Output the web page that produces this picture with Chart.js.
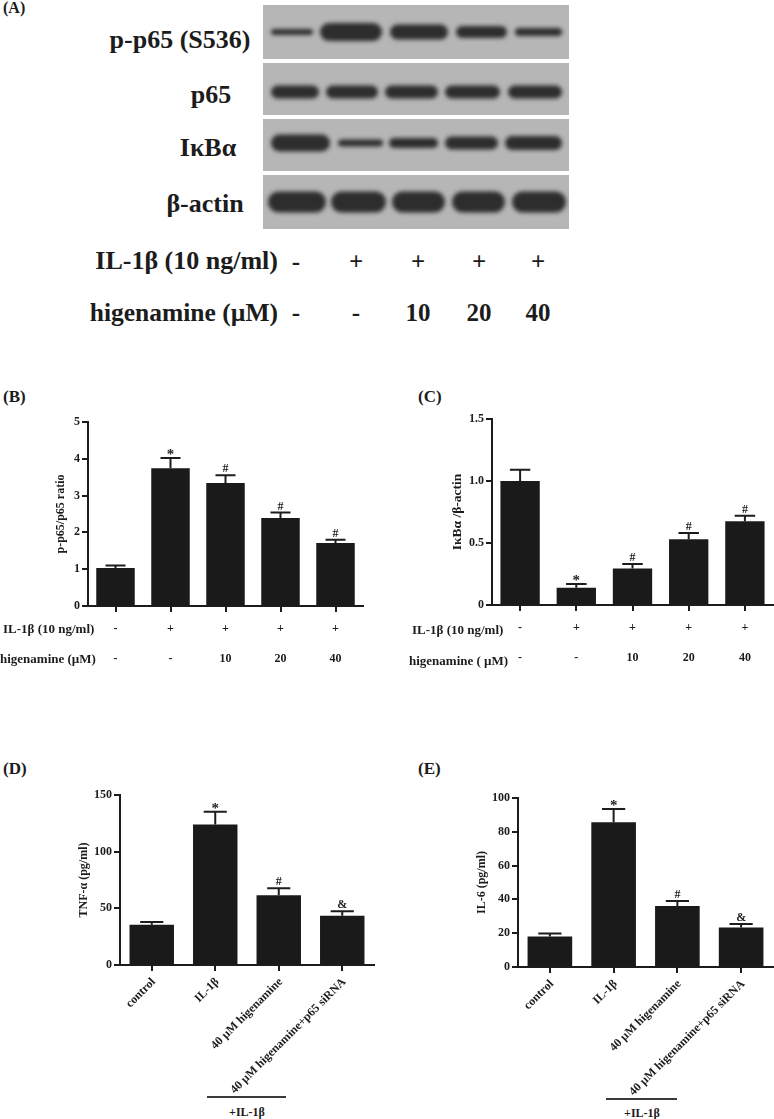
<!DOCTYPE html>
<html>
<head>
<meta charset="utf-8">
<script src="https://cdn.jsdelivr.net/npm/chart.js@4/dist/chart.umd.min.js"></script>
<style>
  html, body { margin: 0; background: #fff; }
  #page { position: relative; width: 774px; height: 1119px; overflow: hidden; font-family: "Liberation Serif", serif; font-weight: bold; color: #1c1c1c; }
  canvas { position: absolute; }
  .txt { position: absolute; white-space: nowrap; line-height: 1; }
  .rule { position: absolute; height: 2px; background: #3a3a3a; }
</style>
</head>
<body>
<div id="page"></div>
<script>
// panel A blot, in membrane units
const blotNames = ["p-p65 (S536)", "p65", "I\u03BAB\u03B1", "\u03B2-actin"];
const membraneCentre = [27, 84, 140, 197];
const membraneHeight = [54, 52, 52, 54];
const bandCentre = [27, 87, 138, 197];
const bandStart = [[8, 57, 127, 193, 252], [8, 63, 122, 182, 245], [8, 75, 126, 182, 242], [5, 68, 129, 189, 249]];
const bandEnd = [[50, 119, 185, 244, 299], [56, 115, 175, 237, 299], [67, 120, 175, 235, 299], [63, 123, 182, 242, 303]];
const bandLoad = [[6, 18, 15, 12, 8], [13, 13, 13, 13, 13], [17, 7, 10, 13, 14], [21, 21, 21, 21, 21]];

// tick rows shared by A, B and C
const il1bRow = ["-", "+", "+", "+", "+"];
const higenamineRow = ["-", "-", "10", "20", "40"];

// panel B
const ratioValues = [1.03, 3.74, 3.34, 2.39, 1.71];
const ratioErrors = [0.07, 0.28, 0.21, 0.15, 0.09];
const ratioMarks = ["", "*", "#", "#", "#"];

// panel C
const ikbValues = [1.0, 0.14, 0.295, 0.53, 0.675];
const ikbErrors = [0.09, 0.03, 0.035, 0.05, 0.045];
const ikbMarks = ["", "*", "#", "#", "#"];

// panels D and E
const treatmentLabels = ["control", "IL-1\u03B2", "40 \u00B5M higenamine", "40 \u00B5M higenamine+p65 siRNA"];
const tnfValues = [35.5, 124, 61.6, 43.4];
const tnfErrors = [2.4, 11.3, 6.2, 4.1];
const tnfMarks = ["", "*", "#", "&"];
const il6Values = [18.1, 85.7, 36.1, 23.4];
const il6Errors = [1.7, 7.8, 2.9, 2.1];
const il6Marks = ["", "*", "#", "&"];

const INK = "#1c1c1c";
const SERIF = "Liberation Serif";
const page = document.getElementById("page");

function place(text, x, y, size, align) {
    const el = document.createElement("div");
    el.className = "txt";
    el.textContent = text;
    el.style.left = x + "px";
    el.style.top = y + "px";
    el.style.fontSize = size + "px";
    const shift = align === "right" ? "-100%" : align === "center" ? "-50%" : "0";
    el.style.transform = `translate(${shift}, -50%)`;
    page.appendChild(el);
}

function rule(x, y, w) {
    const el = document.createElement("div");
    el.className = "rule";
    el.style.left = x + "px";
    el.style.top = y + "px";
    el.style.width = w + "px";
    page.appendChild(el);
}

function addCanvas(left, top, width, height) {
    const canvas = document.createElement("canvas");
    canvas.width = width;
    canvas.height = height;
    canvas.style.left = left + "px";
    canvas.style.top = top + "px";
    canvas.style.width = width + "px";
    canvas.style.height = height + "px";
    page.appendChild(canvas);
    return canvas;
}

function createBlot() {
    const datasets = [];
    bandStart.forEach((row, r) => row.forEach((start, lane) => {
        const load = bandLoad[r][lane];
        datasets.push({
            data: [{ x: start + load / 2, y: bandCentre[r] }, { x: bandEnd[r][lane] - load / 2, y: bandCentre[r] }],
            showLine: true, pointRadius: 0, borderWidth: load, borderColor: "#2d2d2d", borderCapStyle: "round", isBand: true
        });
    }));
    membraneCentre.forEach((y, r) => {
        datasets.push({
            data: [{ x: 0, y }, { x: 306, y }],
            showLine: true, pointRadius: 0, borderWidth: membraneHeight[r], borderColor: "#b6b6b6", borderCapStyle: "butt"
        });
    });
    new Chart(addCanvas(263, 5, 306, 224), {
        type: "scatter",
        data: { datasets },
        options: {
            responsive: false, animation: false,
            layout: { padding: 0 },
            plugins: { legend: { display: false }, tooltip: { enabled: false } },
            scales: {
                x: { type: "linear", display: false, min: 0, max: 306 },
                y: { type: "linear", display: false, min: 0, max: 224, reverse: true }
            }
        },
        plugins: [{
            id: "bandBlur",
            beforeDatasetDraw(chart, args) {
                chart.ctx.save();
                if (chart.data.datasets[args.index].isBand) chart.ctx.filter = "blur(2.2px)";
            },
            afterDatasetDraw(chart) { chart.ctx.restore(); }
        }]
    });
}

function createBarPanel(box, cfg) {
    new Chart(addCanvas(box.left, box.top, box.width, box.height), {
        type: "bar",
        data: {
            labels: cfg.labels,
            datasets: [{ data: cfg.values, backgroundColor: "#1a1a1a", barPercentage: 0.7, categoryPercentage: 1 }]
        },
        options: {
            responsive: false, animation: false,
            layout: { padding: { top: 12, right: 1, left: 0, bottom: 0 } },
            plugins: { legend: { display: false }, tooltip: { enabled: false } },
            scales: {
                x: {
                    afterFit: s => { s.height = box.xHeight; },
                    border: { color: INK, width: 2 },
                    grid: { offset: false, drawOnChartArea: false, tickLength: 6, tickWidth: 2, tickColor: INK, lineWidth: 2 },
                    ticks: {
                        color: INK, autoSkip: false, padding: cfg.rotate ? 4 : 2, labelOffset: cfg.rotate ? 2 : 0,
                        minRotation: cfg.rotate || 0, maxRotation: cfg.rotate || 0,
                        font: { family: SERIF, weight: "bold", size: 12, lineHeight: cfg.rotate ? 1.2 : "30px" }
                    }
                },
                y: {
                    min: 0, max: cfg.max,
                    afterFit: s => { s.width = box.yWidth; },
                    border: { color: INK, width: 2 },
                    grid: { drawOnChartArea: false, tickLength: 6, tickWidth: 2, tickColor: INK, lineWidth: 2 },
                    ticks: { color: INK, stepSize: cfg.step, padding: 2, font: { family: SERIF, weight: "bold", size: 12 } },
                    title: { display: true, text: cfg.title, color: INK, padding: { top: 4, bottom: 0 }, font: { family: SERIF, weight: "bold", size: cfg.titleSize || 12 } }
                }
            }
        },
        plugins: [{
            id: "errorBars",
            afterDatasetsDraw(chart) {
                const { ctx } = chart;
                const yScale = chart.scales.y;
                const bars = chart.getDatasetMeta(0).data;
                ctx.save();
                ctx.strokeStyle = INK;
                ctx.lineWidth = 2;
                ctx.fillStyle = INK;
                ctx.textAlign = "center";
                ctx.textBaseline = "alphabetic";
                bars.forEach((bar, i) => {
                    const base = yScale.getPixelForValue(cfg.values[i]);
                    const top = yScale.getPixelForValue(cfg.values[i] + cfg.errors[i]);
                    const half = bar.width * 0.26;
                    ctx.beginPath();
                    ctx.moveTo(bar.x, base);
                    ctx.lineTo(bar.x, top);
                    ctx.moveTo(bar.x - half, top);
                    ctx.lineTo(bar.x + half, top);
                    ctx.stroke();
                    const mark = cfg.marks[i];
                    if (mark) {
                        // the asterisk sits high in its line, so it needs a lower baseline
                        ctx.font = `bold ${mark === "*" ? 15 : 12}px "${SERIF}"`;
                        ctx.fillText(mark, bar.x, mark === "*" ? top + 1 : top - 3);
                    }
                });
                ctx.restore();
            }
        }]
    });
}

const rowLabels = il1bRow.map((v, i) => [v, higenamineRow[i]]);

// panel A
createBlot();
place("(A)", 3, 8, 16);
const blotLabelX = [180, 211, 208, 205];
const blotLabelY = [40, 95, 148, 204];
blotNames.forEach((name, i) => place(name, blotLabelX[i], blotLabelY[i], 26, "center"));
place("IL-1\u03B2 (10 ng/ml)", 278, 261, 26, "right");
place("higenamine (\u00B5M)", 278, 313, 25.5, "right");
const blotLaneX = [296, 356, 418, 479, 538];
il1bRow.forEach((v, i) => place(v, blotLaneX[i], 261, 25, "center"));
higenamineRow.forEach((v, i) => place(v, blotLaneX[i], 312, 25, "center"));

// panel B
place("(B)", 3, 396, 17);
createBarPanel({ left: 50, top: 410, width: 314, height: 266, xHeight: 70, yWidth: 38 },
    { labels: rowLabels, values: ratioValues, errors: ratioErrors, marks: ratioMarks, max: 5, step: 1, title: "p-p65/p65 ratio" });
place("IL-1\u03B2 (10 ng/ml)", 3, 628, 13);
place("higenamine (\u00B5M)", 0, 658, 13);

// panel C
place("(C)", 418, 396, 17);
createBarPanel({ left: 445, top: 407, width: 329, height: 268, xHeight: 70, yWidth: 47 },
    { labels: rowLabels, values: ikbValues, errors: ikbErrors, marks: ikbMarks, max: 1.5, step: 0.5, title: "I\u03BAB\u03B1 /\u03B2-actin", titleSize: 13.5 });
place("IL-1\u03B2 (10 ng/ml)", 412, 629, 13);
place("higenamine ( \u00B5M)", 409, 660, 13);

// panel D
place("(D)", 3, 768, 17);
createBarPanel({ left: 73, top: 783, width: 302, height: 312, xHeight: 130, yWidth: 47 },
    { labels: treatmentLabels, values: tnfValues, errors: tnfErrors, marks: tnfMarks, max: 150, step: 50, title: "TNF-\u03B1 (pg/ml)", rotate: 45 });
rule(207, 1096, 79);
place("+IL-1\u03B2", 247, 1112, 12, "center");

// panel E
place("(E)", 418, 768, 17);
createBarPanel({ left: 471, top: 786, width: 303, height: 311, xHeight: 130, yWidth: 47 },
    { labels: treatmentLabels, values: il6Values, errors: il6Errors, marks: il6Marks, max: 100, step: 20, title: "IL-6 (pg/ml)", rotate: 45 });
rule(606, 1098, 71);
place("+IL-1\u03B2", 642, 1113, 12, "center");
</script>
</body>
</html>
